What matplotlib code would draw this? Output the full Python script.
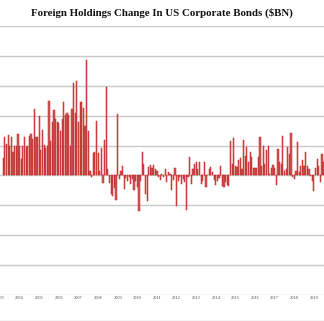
import matplotlib
matplotlib.use("Agg")
import matplotlib.pyplot as plt
from matplotlib.lines import Line2D
import numpy as np
import pandas as pd

# Monthly foreign net purchases of US corporate bonds, $BN (Mar 2003 - Jul 2019)
start_month = "2003-03"
values = [
    11.8, 26, 21, 27, 20, 25.5, 16, 20, 20, 28, 20, 10.7, 19.6, 26, 18.7, 20,
    26.7, 27.8, 24.7, 44.4, 26, 25.8, 40, 17.3, 30.7, 20.4, 18.2, 20, 49.8, 22.9,
    36, 43.6, 37.8, 36, 35, 30, 37.8, 48.9, 40.7, 41.8, 40.7, 20, 44.4, 62, 41.8,
    63, 35.5, 48.9, 48.9, 45, 32.9, 77, 29.5, 2.9, -0.9, 15.1, 15.6, 36.7, 15,
    2.7, 18.4, -4.9, 24, 58.9, 4.4, -4.9, -12.7, -13.8, -8.2, -16.4, 41,
    -2.5, 3, 6.5, -9, -1.8, -3.6, -1.3, -5.8, -2.5, -10, -3.6, -8, -24,
    -3.6, 15.5, 7.6, -12.6, -17, 5.4, 7, 4.7, 7.2, 4.3, 3, -1, -3.1, 0.9,
    -1.3, 4.3, -4.7, 2, 1.3, -10, -3.1, 4.7, -20.4,
    -3.6, -1.3, -5.4, -2.5, -4.7, -23.4, -1.3, 12.6, -5.8, 4.3, 7.6, 8.8, 4.3,
    8.8, -5.8, -3.6, 8.8, -8, 0.5, 4.3,
    5.6, 2.2, -3.3, -6.7, -4, -1.8, 6.2, -7.1, -7.8, -4.4, -6.2, -7.1, 23,
    7.8, 25, 6.2, 5.6, 10, 11.6, 4.4, 23.6, 12.9, 18.9, 9.3, 15.6, 12.2, 4.9,
    4.9, 4.9, 12.2, 25.6, 6.2, 19.6, 7.8, 16.7, 19.6, 1.1, 4.9, 7.1, 4.9, -6.2,
    17.8, 8.9, 7.8, 26.2, 3.3, 4.4, 18.9, 14.4, 28.4, -1.1, -2.7, 3.3, 22.2,
    2.2, 6.2, 10.2, 6.2, 16, 6.2, 4.4, -0.4, -3.6, -10.7, 4.9, 11.1, 6.2, -4.4,
    14.4, 9.3,
]
years = list(range(2003, 2020))
title = "Foreign Holdings Change In US Corporate Bonds ($BN)"

months = pd.period_range(start=start_month, periods=len(values), freq="M")
x = np.arange(len(values))
first = months[0]
tick_pos = [(pd.Period(f"{y}-01", freq="M") - first).n for y in years]

W, H, DPI = 324, 321, 100
fig = plt.figure(figsize=(W / DPI, H / DPI), dpi=DPI)
fig.patch.set_facecolor("white")

top_px, bot_px = 26, 295
ax = fig.add_axes([0, 1 - bot_px / H, 1, (bot_px - top_px) / H])
ax.set_facecolor("white")

ax.bar(x, values, width=0.72, color="#cc5a5a", edgecolor="#c62020",
       linewidth=0.35, zorder=3)

ax.set_xlim(-0.18, 196.18)
ax.set_ylim(-80, 100)
ax.set_yticks(np.arange(-80, 101, 20))
ax.yaxis.grid(True, color="#cacaca", linewidth=1.0, zorder=0)
ax.tick_params(axis="y", left=False, labelleft=False)

ax.set_xticks(tick_pos)
ax.set_xticklabels([str(y) for y in years], family="Liberation Serif",
                   fontsize=3.2, color="#444444")
ax.tick_params(axis="x", length=0, pad=0.8)
for lbl in ax.get_xticklabels():
    lbl.set_clip_on(False)

for s in ax.spines.values():
    s.set_visible(False)

fig.add_artist(Line2D([0, 1], [1 - 320.5 / H] * 2, color="#cacaca",
                      linewidth=1.0, transform=fig.transFigure))

fig.text(0.5, 1 - 12.5 / H, title, ha="center", va="center",
         family="Liberation Serif", fontweight="bold", fontsize=7.8,
         color="#111111")

fig.savefig("out.png", dpi=DPI)
